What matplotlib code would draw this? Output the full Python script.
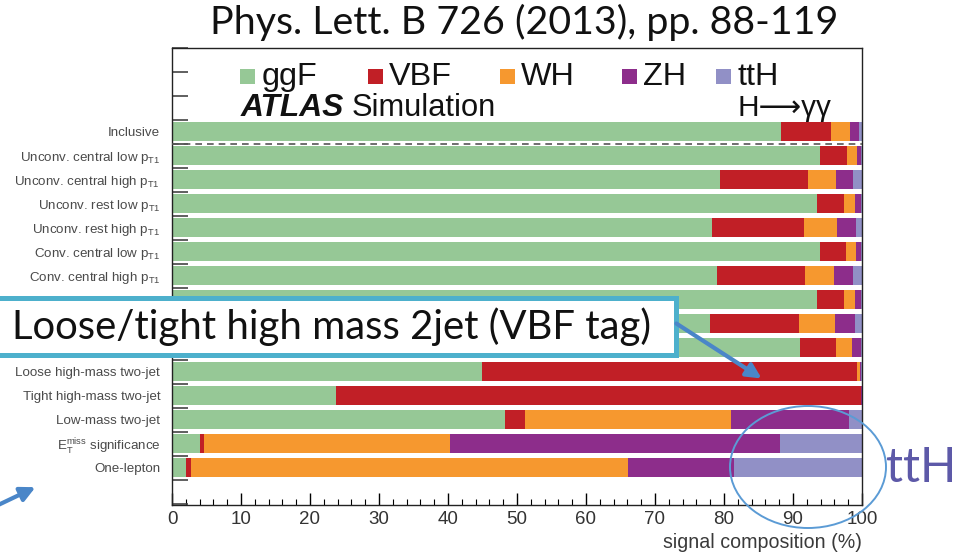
import numpy as np
import matplotlib
matplotlib.use("Agg")
import matplotlib.pyplot as plt
from matplotlib.patches import Rectangle, Ellipse, FancyArrowPatch

plt.rcParams['font.family'] = ['Liberation Sans', 'DejaVu Sans']
plt.rcParams['mathtext.default'] = 'regular'

# categories (top to bottom)
categories = ['Inclusive',
              'Unconv. central low $p_{T1}$',
              'Unconv. central high $p_{T1}$',
              'Unconv. rest low $p_{T1}$',
              'Unconv. rest high $p_{T1}$',
              'Conv. central low $p_{T1}$',
              'Conv. central high $p_{T1}$',
              'Conv. rest low $p_{T1}$',
              'Conv. rest high $p_{T1}$',
              'Conv. transition',
              'Loose high-mass two-jet',
              'Tight high-mass two-jet',
              'Low-mass two-jet',
              '$E_{T}^{miss}$ significance',
              'One-lepton']

modes = ['ggF', 'VBF', 'WH', 'ZH', 'ttH']
colors = ['#96c896', '#c11f26', '#f6982f', '#8d2d8b', '#9190c6']

# signal composition in %
ggF = [88.3, 93.9, 79.4, 93.5, 78.2, 93.9, 79.0, 93.5, 78.0, 91.0, 45.0, 23.7, 48.2, 4.1, 2.1]
VBF = [7.2, 3.9, 12.8, 3.9, 13.4, 3.8, 12.7, 3.9, 12.9, 5.2, 54.3, 76.1, 3.0, 0.5, 0.7]
WH = [2.8, 1.5, 4.0, 1.6, 4.8, 1.4, 4.2, 1.6, 5.2, 2.3, 0.4, 0.1, 29.8, 35.7, 63.3]
ZH = [1.3, 0.6, 2.5, 0.8, 2.7, 0.7, 2.8, 0.8, 2.9, 1.4, 0.2, 0.1, 17.1, 47.8, 15.3]
ttH = [0.4, 0.1, 1.3, 0.2, 0.9, 0.2, 1.3, 0.2, 1.0, 0.1, 0.1, 0.0, 1.9, 11.9, 18.6]
series = [ggF, VBF, WH, ZH, ttH]

xticks = [0, 10, 20, 30, 40, 50, 60, 70, 80, 90, 100]

W, H = 961, 556
fig = plt.figure(figsize=(W / 100, H / 100), dpi=100)
fig.patch.set_facecolor('white')
ax = fig.add_axes([172 / W, 1 - 505 / H, (862 - 172) / W, (505 - 48) / H])
r = fig.canvas.get_renderer()


def fx(x):
    return x / W


def fy(y):
    return 1 - y / H


def fit(t, width_px):
    w = t.get_window_extent(r).width
    t.set_fontsize(t.get_fontsize() * width_px / w)
    return t


rows = np.arange(len(categories))
left = np.zeros(len(categories))
for vals, c in zip(series, colors):
    ax.barh(rows, vals, left=left, height=0.79, color=c, linewidth=0, zorder=2)
    left += np.array(vals)

ax.axhline(0.5, color='#555555', lw=1.2, ls=(0, (4, 3)), zorder=3)

ax.set_xlim(0, 100)
ax.set_ylim(15.55, -3.5)

# x axis
ax.set_xticks(xticks)
ax.set_xticks(np.arange(0, 101, 2), minor=True)
ax.tick_params(axis='x', which='major', direction='in', length=8.5, width=1,
               labelsize=13.5, labelcolor='#333333', pad=4)
ax.tick_params(axis='x', which='minor', direction='in', length=4.3, width=0.8)

# y axis: ticks at row boundaries, labels at centres
tmp = fig.text(0, 0, 'Unconv. central high $p_{T1}$', fontsize=10)
fit(tmp, 145)
lab_fs = tmp.get_fontsize()
tmp.remove()
ax.set_yticks(np.arange(-3.5, 15.6, 1.0))
ax.set_yticklabels([])
ax.tick_params(axis='y', which='major', direction='in', length=11.5, width=1.2,
               color='#444444')
ax.set_yticks(rows, categories, minor=True)
ax.tick_params(axis='y', which='minor', length=0, pad=8.5,
               labelsize=lab_fs, labelcolor='#4a4a4a')

for s in ax.spines.values():
    s.set_linewidth(1)
    s.set_color('#222222')

xl = ax.set_xlabel('signal composition (%)', color='#3a3a3a', fontsize=11)
ax.xaxis.set_label_coords(1.0, -0.062)
xl.set_horizontalalignment('right')
fit(xl, 196)

# legend
leg_x = [9.9, 28.4, 47.5, 65.2, 78.8]
for m, c, x in zip(modes, colors, leg_x):
    ax.add_patch(Rectangle((x, -2.62), 2.2, 0.64, color=c, lw=0, zorder=4))
    t = ax.text(x + 3.1, -2.3, m, fontsize=16, va='center', ha='left', color='#111111')
    if m == 'ggF':
        fit(t, 56)
        leg_fs = t.get_fontsize()
    else:
        t.set_fontsize(leg_fs)

atl = ax.text(9.9, -0.98, 'ATLAS', fontsize=15, fontweight='bold', fontstyle='italic',
              va='center', ha='left', color='#111111')
fit(atl, 104)
sim = ax.text(26.1, -0.98, 'Simulation', fontsize=15, va='center', ha='left',
              color='#111111')
fit(sim, 145)
hgg = ax.text(95.6, -0.98, 'H\u27f6\u03b3\u03b3', fontsize=15.5, va='center',
              ha='right', color='#111111')
fit(hgg, 94)

# title
title = fig.text(fx(524), fy(22), 'Phys. Lett. B 726 (2013), pp. 88-119', family='Lato',
                 fontsize=22, ha='center', va='center', color='#111111')
fit(title, 628)

# call-out box
fig.add_artist(Rectangle((fx(-4), fy(355)), (676 + 4) / W, (355 - 298) / H,
                         transform=fig.transFigure, facecolor='white',
                         edgecolor='#4db0cc', lw=3.6, zorder=5))
cal = fig.text(fx(12), fy(327), 'Loose/tight high mass 2jet (VBF tag)', family='Lato',
               fontsize=24, ha='left', va='center', color='#111111', zorder=6)
fit(cal, 640)

fig.add_artist(FancyArrowPatch((fx(674), fy(322)), (fx(764), fy(380)),
                               transform=fig.transFigure, arrowstyle='-|>',
                               mutation_scale=22, lw=3, color='#4a86c8', zorder=6))
fig.add_artist(FancyArrowPatch((fx(-6), fy(507)), (fx(38), fy(486)),
                               transform=fig.transFigure, arrowstyle='-|>',
                               mutation_scale=22, lw=3, color='#4a86c8', zorder=6))

# ttH highlight
fig.add_artist(Ellipse((fx(808), fy(467)), 156 / W, 122 / H, transform=fig.transFigure,
                       fill=False, edgecolor='#5b9bd5', lw=1.4, zorder=6))
tt = fig.text(fx(886), fy(468), 'ttH', family='Lato', fontsize=30, ha='left',
              va='center', color='#5d59a8')
fit(tt, 70)

fig.savefig('out.png', dpi=100)
